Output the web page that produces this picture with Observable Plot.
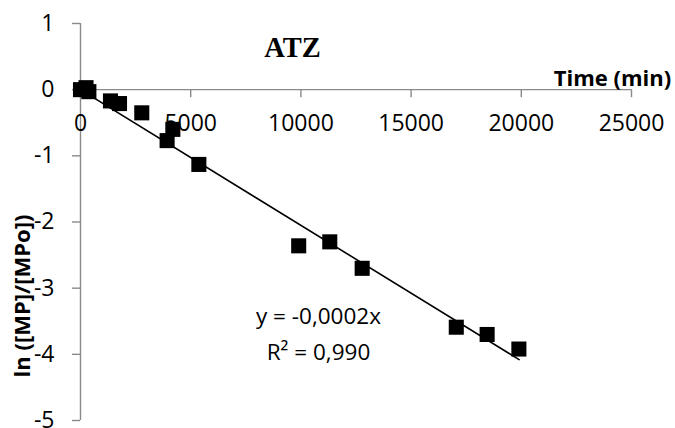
<!DOCTYPE html>
<html><head><meta charset="utf-8">
<script src="https://cdn.jsdelivr.net/npm/d3@7"></script>
<script src="https://cdn.jsdelivr.net/npm/@observablehq/plot@0.6"></script>
<style>body{margin:0;background:#fff}</style>
</head><body><div id="chart"></div>
<script>
const timeMin = [0, 250, 380, 1360, 1770, 2780, 3930, 4190, 5370, 9900, 11310, 12780, 17050, 18450, 19890];
const lnRatio = [0.0, 0.03, -0.03, -0.17, -0.21, -0.35, -0.77, -0.60, -1.13, -2.36, -2.30, -2.70, -3.59, -3.70, -3.92];
const trendX = [0, 19900];
const trendY = [0, -4.08];
const xTicks = [0, 5000, 10000, 15000, 20000, 25000];
const yTicks = [1, 0, -1, -2, -3, -4, -5];
const titleText = "ATZ";
const xLabel = "Time (min)";
const yLabel = "ln ([MP]/[MPo])";
const eqText = ["y = -0,0002x", "R² = 0,990"];

const points = timeMin.map((x, i) => ({x, y: lnRatio[i]}));
const trend = trendX.map((x, i) => ({x, y: trendY[i]}));
const gray = "#8a8a8a";
const sans = "'Open Sans', Lato, sans-serif";

const chart = Plot.plot({
  width: 675, height: 428,
  marginLeft: 80, marginRight: 44, marginTop: 23, marginBottom: 8,
  x: {domain: [0, 25000], axis: null},
  y: {domain: [-5, 1], axis: null},
  style: {fontFamily: sans, background: "#fff"},
  marks: [
    Plot.ruleX([0], {y1: -5, y2: 1, stroke: gray, strokeWidth: 1.4}),
    Plot.ruleY([0], {x1: 0, x2: 25000, stroke: gray, strokeWidth: 1.4}),
    Plot.ruleX(xTicks, {x: d => d, y1: 0, y2: 0, insetBottom: -8, stroke: gray, strokeWidth: 1.4}),
    Plot.ruleY(yTicks, {y: d => d, x1: 0, x2: 0, insetLeft: -8, stroke: gray, strokeWidth: 1.4}),
    Plot.text(xTicks, {x: d => d, y: 0, dy: 34, text: d => String(d), fontSize: 23, fill: "#000"}),
    Plot.text(yTicks, {x: 0, y: d => d, dx: -26, textAnchor: "end", text: d => String(d), fontSize: 23, fill: "#000"}),
    Plot.line(trend, {x: "x", y: "y", stroke: "#000", strokeWidth: 1.6}),
    Plot.dot(points, {x: "x", y: "y", symbol: "square", r: 8.5, fill: "#000", stroke: "none"}),
    Plot.text([titleText], {frameAnchor: "top-left", textAnchor: "middle", dx: 212, dy: 13, text: d => d, fontFamily: "'Liberation Serif', 'Times New Roman', serif", fontWeight: "bold", fontSize: 28.5, fill: "#000"}),
    Plot.text([xLabel], {frameAnchor: "top-right", textAnchor: "middle", dx: -19, dy: 47, text: d => d, fontWeight: "bold", fontSize: 22, fill: "#000"}),
    Plot.text([yLabel], {frameAnchor: "left", textAnchor: "middle", dx: -58, dy: 74, rotate: -90, text: d => d, fontWeight: "bold", fontSize: 22, fill: "#000"}),
    Plot.text([eqText[0]], {frameAnchor: "top-left", textAnchor: "middle", dx: 238, dy: 285, text: d => d, fontSize: 22.5, fill: "#000"}),
    Plot.text([eqText[1]], {frameAnchor: "top-left", textAnchor: "middle", dx: 238, dy: 321, text: d => d, fontSize: 22.5, fill: "#000"})
  ]
});
document.getElementById("chart").append(chart);
</script>
</body></html>
